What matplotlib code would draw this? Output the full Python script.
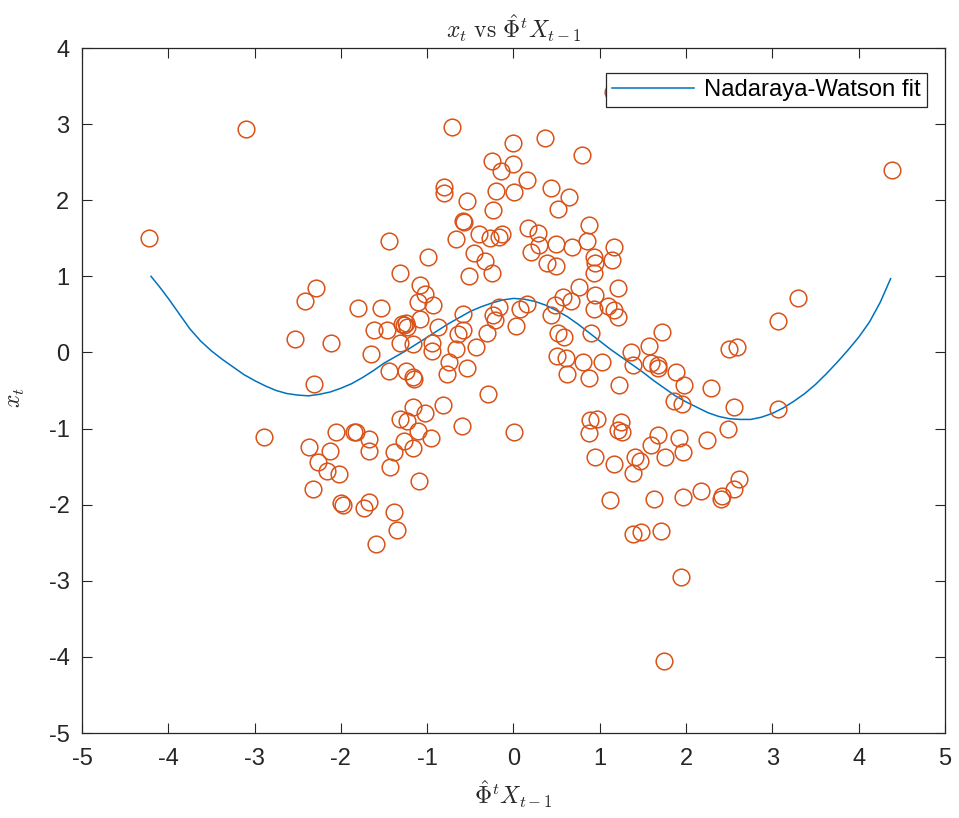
import numpy as np
import matplotlib
matplotlib.use("Agg")
from matplotlib import pyplot as plt

# scatter data (x = Phi^t X_{t-1}, y = x_t)
pts_x = [-3.10, -4.22, -2.29, -2.42, -1.80, -1.53, -2.53, -2.11, -1.62, -1.65,
         -2.31, -2.89, -2.06, -1.85, -1.82, -1.68, -1.68, -2.37, -2.13, -2.26,
         -2.16, -2.02, -2.32, -2.00, -1.98, -1.67, -1.73, -1.59,
         -0.71, -0.25, -0.14, -0.01, -0.01, -0.81, -0.81, -0.20, 0.01, -0.54,
         -0.24, -0.59, -0.57, -1.44, -0.67, -0.40, -0.27, -0.17, -0.13, -0.46,
         -0.33, -0.25, -0.51, -0.99, -1.31, -1.08, -1.03, -1.11, -0.93, -1.29,
         -1.25, -1.23, -1.27, -1.08, -1.46, -0.88, -0.59, -0.58, -0.64, -0.31,
         -0.24, -0.17, -0.21, -0.44, -0.95, -0.95, -1.32, -1.16, -0.67, -1.44,
         -1.25, -1.16, -1.15, -0.77, -0.75, -0.54, -0.29, -0.82, -1.17, -1.03,
         -1.31, -1.23, -0.60, 0.01, -1.11, -1.27, -0.96, -1.16, -1.39, -1.43,
         -1.09, -1.39, -1.35,
         0.36, 0.79, 0.16, 0.44, 0.64, 0.52, 0.17, 0.28, 0.29, 0.20,
         0.49, 0.68, 0.87, 0.85, 1.16, 0.39, 0.49, 0.93, 0.94, 0.93,
         1.14, 0.03, 0.08, 0.16, 0.44, 0.48, 0.57, 0.67, 0.76, 0.95,
         0.93, 1.10, 1.16, 1.21, 1.21, 0.51, 0.59, 0.90, 1.72, 1.57,
         1.36, 0.50, 0.61, 0.81, 1.03, 0.62, 0.87, 1.39, 1.59, 1.67,
         1.22, 0.89, 0.97, 0.87, 1.24, 1.21, 1.26, 1.59, 0.95, 1.17,
         1.41, 1.47, 1.38, 1.12, 1.63, 1.38, 1.48, 1.71,
         2.50, 2.59, 1.68, 1.88, 1.97, 2.29, 1.86, 1.95, 2.55, 3.06,
         2.49, 1.68, 1.92, 1.96, 2.24, 1.76, 2.61, 2.55, 2.42, 2.40,
         2.17, 1.96, 1.94, 1.74, 4.39, 3.30, 3.06, 1.15]
pts_y = [2.93, 1.51, 0.85, 0.68, 0.58, 0.59, 0.18, 0.13, 0.29, -0.02,
         -0.42, -1.11, -1.04, -1.04, -1.05, -1.14, -1.30, -1.24, -1.29, -1.44,
         -1.56, -1.60, -1.79, -1.98, -2.00, -1.96, -2.05, -2.52,
         2.96, 2.52, 2.39, 2.47, 2.75, 2.17, 2.09, 2.12, 2.11, 1.99,
         1.87, 1.73, 1.71, 1.47, 1.49, 1.56, 1.50, 1.52, 1.56, 1.31,
         1.20, 1.05, 1.01, 1.25, 1.04, 0.88, 0.77, 0.66, 0.62, 0.38,
         0.39, 0.33, 0.36, 0.44, 0.29, 0.33, 0.51, 0.30, 0.24, 0.26,
         0.49, 0.60, 0.43, 0.07, 0.12, 0.02, 0.12, 0.11, 0.04, -0.24,
         -0.24, -0.32, -0.35, -0.28, -0.13, -0.21, -0.54, -0.69, -0.72, -0.80,
         -0.88, -0.90, -0.96, -1.04, -1.03, -1.16, -1.12, -1.25, -1.31, -1.51,
         -1.69, -2.10, -2.33,
         2.82, 2.59, 2.26, 2.16, 2.04, 1.89, 1.63, 1.57, 1.41, 1.32,
         1.42, 1.39, 1.67, 1.47, 1.39, 1.18, 1.14, 1.25, 1.17, 1.05,
         1.21, 0.35, 0.57, 0.64, 0.49, 0.62, 0.73, 0.68, 0.86, 0.75,
         0.57, 0.61, 0.56, 0.85, 0.46, 0.26, 0.20, 0.25, 0.27, 0.08,
         0.00, -0.04, -0.07, -0.12, -0.12, -0.28, -0.34, -0.17, -0.14, -0.16,
         -0.43, -0.89, -0.87, -1.06, -0.91, -1.02, -1.05, -1.21, -1.37, -1.47,
         -1.38, -1.43, -1.59, -1.94, -1.92, -2.38, -2.36, -2.35,
         0.04, 0.07, -0.21, -0.26, -0.43, -0.47, -0.64, -0.68, -0.72, -0.74,
         -1.00, -1.08, -1.13, -1.31, -1.15, -1.38, -1.66, -1.79, -1.89, -1.92,
         -1.82, -1.90, -2.95, -4.05, 2.40, 0.71, 0.41, 3.42]

# Nadaraya-Watson fit
fit_x = [-4.2, -4.1, -4.0, -3.875, -3.75, -3.625, -3.5, -3.375, -3.25, -3.125,
         -3.0, -2.875, -2.75, -2.625, -2.5, -2.375, -2.25, -2.125, -2.0,
         -1.875, -1.75, -1.625, -1.5, -1.375, -1.25, -1.125, -1.0, -0.875,
         -0.75, -0.625, -0.5, -0.375, -0.25, -0.125, 0.0, 0.125, 0.25, 0.375,
         0.5, 0.625, 0.75, 0.875, 1.0, 1.125, 1.25, 1.375, 1.5, 1.625, 1.75,
         1.875, 2.0, 2.125, 2.25, 2.375, 2.5, 2.625, 2.75, 2.875, 3.0, 3.125,
         3.25, 3.375, 3.5, 3.625, 3.75, 3.875, 4.0, 4.125, 4.25, 4.37]
fit_y = [1.00, 0.86, 0.71, 0.51, 0.31, 0.15, 0.02, -0.09, -0.19, -0.29,
         -0.37, -0.44, -0.50, -0.54, -0.56, -0.57, -0.55, -0.52, -0.47,
         -0.41, -0.33, -0.24, -0.14, -0.06, 0.02, 0.11, 0.20, 0.29,
         0.38, 0.46, 0.54, 0.60, 0.65, 0.69, 0.71, 0.70, 0.67, 0.62,
         0.55, 0.47, 0.37, 0.26, 0.15, 0.04, -0.06, -0.16, -0.26, -0.37, -0.47,
         -0.57, -0.65, -0.72, -0.79, -0.84, -0.87, -0.88, -0.88, -0.85, -0.80, -0.73,
         -0.64, -0.54, -0.42, -0.28, -0.13, 0.03, 0.20, 0.40, 0.66, 0.97]

plt.rcParams['font.family'] = ['Liberation Sans', 'DejaVu Sans']
plt.rcParams['mathtext.fontset'] = 'cm'
plt.rcParams['axes.unicode_minus'] = False

fig = plt.figure(figsize=(9.59, 8.18), dpi=100)
ax = fig.add_axes([0.0855, 0.1039, 0.8999, 0.8374])

fit_line, = ax.plot(fit_x, fit_y, color='#0072BD', lw=1.1,
                    label='Nadaraya-Watson fit', zorder=2)
ax.plot(pts_x, pts_y, 'o', mfc='none', mec='#D95319', ms=12, mew=1.1,
        linestyle='none', zorder=3)

ax.set_xlim(-5, 5)
ax.set_ylim(-5, 4)
ax.set_xticks(np.arange(-5, 6, 1))
ax.set_yticks(np.arange(-5, 5, 1))
ax.tick_params(direction='in', top=True, right=True, labelsize=17,
               length=7, width=0.8, colors='#262626')
ax.tick_params(axis='x', pad=11)
ax.tick_params(axis='y', pad=9)
for s in ax.spines.values():
    s.set_color('#262626')
    s.set_linewidth(0.9)

ax.set_title(r'$x_t\ \mathrm{vs}\ \hat{\Phi}^t X_{t-1}$', fontsize=17, pad=7,
             color='#262626')
ax.set_xlabel(r'$\hat{\Phi}^t X_{t-1}$', fontsize=17, color='#262626',
              labelpad=6)
ax.set_ylabel(r'$x_t$', fontsize=17, color='#262626')
ax.yaxis.set_label_coords(-0.064, 0.49)

leg = ax.legend(handles=[fit_line], loc='upper right',
                bbox_to_anchor=(0.9791, 0.9635), borderaxespad=0,
                fontsize=17.2, handlelength=3.4, handletextpad=0.45,
                borderpad=0.25, fancybox=False,
                framealpha=1, edgecolor='#262626')
leg.get_frame().set_linewidth(0.9)
leg.set_zorder(5)

fig.savefig('out.png', dpi=100)
